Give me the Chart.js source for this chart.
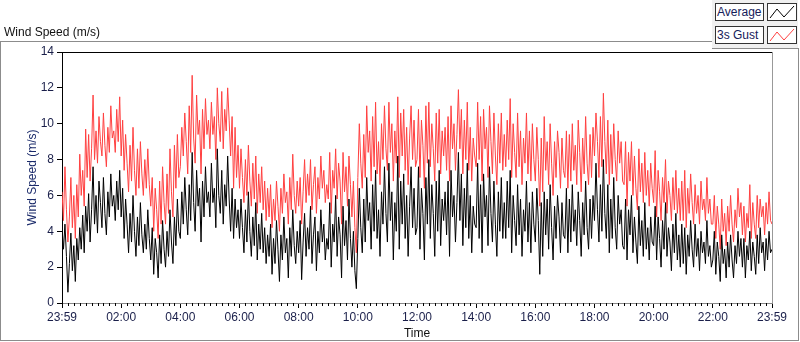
<!DOCTYPE html>
<html>
<head>
<meta charset="utf-8">
<script src="https://cdn.jsdelivr.net/npm/chart.js@4/dist/chart.umd.min.js"></script>
<style>
  body { margin: 0; background: #fff; }
  #wrap { position: relative; width: 800px; height: 342px; overflow: hidden; font-family: "Liberation Sans", Arial, sans-serif; }
  #chart { position: absolute; left: 0; top: 0; }
  .ln { position: absolute; background: #8c8c8c; }
  #title { position: absolute; left: 4px; top: 25px; font-size: 12px; color: #111; }
  #legend { position: absolute; left: 712px; top: 0; width: 86px; height: 48px; background: #f0f0f0; border-bottom: 1px solid #8c8c8c; }
  .lbl { position: absolute; left: 3px; width: 46px; height: 16px; border: 1px solid #333; background: #fff; font-size: 12px; line-height: 16px; padding-left: 1px; color: #15205a; }
  .ico { position: absolute; left: 55px; width: 28px; height: 16px; border: 1px solid #333; background: #fff; }
</style>
</head>
<body>
<div id="wrap">
  <canvas id="chart" width="800" height="342"></canvas>
  <div id="title">Wind Speed (m/s)</div>
  <div class="ln" style="left:0;top:41px;width:712px;height:1px"></div>
  <div class="ln" style="left:0;top:41px;width:1px;height:300px"></div>
  <div class="ln" style="left:0;top:340px;width:799px;height:1px"></div>
  <div class="ln" style="left:798px;top:48px;width:1px;height:293px"></div>
  <div id="legend">
    <div class="lbl" style="top:3px">Average</div>
    <div class="ico" style="top:3px"><svg width="28" height="16"><polyline points="2,14 9,5 16,13 26,2" fill="none" stroke="#000" stroke-width="1"/></svg></div>
    <div class="lbl" style="top:26px">3s Gust</div>
    <div class="ico" style="top:26px"><svg width="28" height="16"><polyline points="2,14 9,5 16,13 26,2" fill="none" stroke="#ff4040" stroke-width="1"/></svg></div>
  </div>
</div>
<script>
// 采样间隔 (分钟)，从 23:59 开始到次日 23:59
const sampleStep = 3;
const xMin = 0;
const xMax = 1440;
const yMin = 0;
const yMax = 14;

// 平均风速 (m/s)，每行一小时
const average = [
  4.2, 3.0, 4.4, 2.6, 0.6, 2.2, 3.9, 1.8, 3.2, 1.2, 3.6, 2.4, 4.2, 3.0, 4.9, 2.8, 5.4, 4.0, 6.1, 3.4,
  5.2, 7.6, 4.4, 6.0, 3.9, 6.8, 5.6, 4.2, 7.0, 5.0, 3.8, 6.2, 4.8, 7.2, 5.4, 6.0, 4.6, 6.8, 5.2, 7.4,
  4.8, 6.4, 3.6, 5.8, 4.4, 2.8, 5.0, 3.4, 6.0, 4.0, 2.6, 4.8, 3.2, 5.6, 3.8, 2.8, 4.4, 3.0, 5.2, 3.6,
  2.4, 4.2, 1.6, 3.6, 2.8, 1.4, 3.8, 2.2, 4.6, 3.0, 2.0, 4.0, 2.6, 5.2, 3.4, 2.2, 4.8, 3.2, 5.8, 4.0,
  3.6, 6.2, 4.4, 7.0, 5.2, 3.8, 6.6, 4.6, 8.4, 5.6, 4.0, 7.4, 5.4, 6.4, 3.4, 6.8, 4.8, 7.6, 5.6, 6.2,
  4.8, 7.8, 5.6, 6.4, 4.2, 8.6, 6.0, 5.0, 7.4, 4.4, 6.6, 5.4, 8.2, 5.8, 4.0, 6.4, 3.6, 5.8, 4.2, 5.2,
  3.6, 5.8, 4.2, 2.8, 5.2, 3.4, 6.2, 4.0, 2.6, 4.8, 3.2, 5.6, 2.4, 4.4, 3.0, 5.0, 2.8, 4.2, 2.2, 3.8,
  2.6, 4.4, 1.6, 3.6, 2.2, 4.6, 3.0, 1.2, 3.8, 2.4, 4.8, 2.8, 3.6, 1.4, 4.2, 2.6, 5.2, 3.2, 2.2, 4.0,
  2.8, 4.6, 1.3, 3.4, 5.0, 2.6, 4.2, 3.0, 5.4, 2.2, 3.8, 4.8, 1.8, 4.0, 2.8, 5.2, 3.4, 4.4, 2.4, 3.6,
  3.0, 5.6, 2.0, 4.4, 3.4, 6.0, 2.6, 4.8, 3.8, 1.4, 5.4, 3.2, 4.6, 2.4, 5.8, 3.6, 2.0, 4.0, 1.8, 0.8,
  3.6, 6.4, 4.2, 2.8, 5.8, 3.4, 7.0, 4.6, 5.6, 3.0, 6.6, 4.0, 7.4, 3.6, 5.2, 2.6, 6.2, 4.4, 7.6, 5.0,
  3.4, 7.8, 4.6, 6.2, 2.4, 5.6, 4.0, 8.2, 3.0, 6.8, 4.4, 7.2, 3.6, 6.0, 2.6, 5.4, 7.6, 4.2, 6.4, 3.8,
  4.2, 7.6, 3.0, 6.4, 5.0, 2.4, 7.0, 4.4, 8.0, 3.6, 6.6, 5.0, 2.6, 6.8, 4.0, 7.4, 3.2, 5.8, 4.6, 6.2,
  3.8, 6.8, 2.6, 7.4, 4.8, 6.0, 3.4, 5.6, 8.4, 4.6, 7.2, 3.2, 6.4, 4.2, 7.8, 3.6, 6.0, 2.8, 5.4, 4.4,
  4.2, 7.8, 3.6, 6.6, 2.8, 7.2, 4.8, 6.0, 3.2, 7.6, 5.0, 3.4, 6.8, 4.4, 2.6, 6.2, 4.0, 7.0, 3.6, 5.6,
  3.6, 6.8, 4.2, 7.4, 2.8, 6.0, 4.6, 3.2, 6.6, 3.8, 5.8, 2.6, 5.2, 4.0, 6.8, 3.4, 5.6, 2.8, 6.2, 4.4,
  3.4, 6.4, 4.6, 1.6, 5.6, 2.6, 6.2, 3.8, 5.8, 3.0, 6.6, 4.2, 2.4, 5.4, 3.6, 6.0, 4.8, 2.8, 5.6, 3.8,
  3.6, 6.4, 2.8, 5.8, 3.4, 6.6, 4.0, 5.2, 3.2, 6.2, 4.6, 2.6, 5.6, 3.8, 6.8, 4.2, 3.0, 5.8, 3.6, 6.0,
  4.6, 7.8, 5.2, 3.4, 6.6, 4.0, 8.0, 5.0, 3.6, 6.6, 2.8, 5.8, 3.6, 7.0, 4.2, 3.0, 6.0, 4.4, 5.2, 3.2,
  3.0, 5.8, 2.4, 5.2, 3.8, 6.0, 2.8, 4.8, 3.4, 2.2, 5.4, 3.2, 4.6, 2.6, 5.6, 3.0, 4.2, 2.4, 4.8, 3.4,
  3.2, 5.4, 2.4, 4.8, 3.6, 2.0, 4.6, 3.0, 5.6, 2.6, 4.2, 3.4, 1.8, 4.4, 2.8, 5.0, 2.4, 3.8, 2.0, 4.4,
  2.2, 4.2, 1.6, 3.8, 2.6, 4.6, 3.0, 2.0, 4.4, 2.6, 3.6, 1.8, 4.0, 2.8, 3.4, 2.2, 4.6, 2.6, 3.2, 2.0,
  2.4, 4.0, 1.6, 3.4, 2.6, 1.2, 3.8, 2.2, 3.0, 1.4, 3.4, 2.0, 3.8, 2.4, 1.4, 3.2, 2.2, 4.0, 2.6, 3.6,
  2.0, 3.6, 1.4, 3.2, 2.4, 4.0, 1.8, 3.4, 2.6, 1.6, 3.8, 2.2, 4.2, 2.8, 3.4, 1.8, 3.6, 2.4, 4.0, 2.8,
  3.0
];

// 3秒阵风 (m/s)
const gust = [
  6.2, 4.6, 7.6, 5.2, 3.4, 4.8, 7.0, 4.2, 6.0, 3.6, 6.6, 4.8, 8.3, 6.0, 7.4, 5.4, 9.7, 7.0, 9.4, 6.8,
  8.6, 11.6, 8.0, 9.6, 7.8, 10.4, 9.0, 8.2, 10.6, 8.8, 7.6, 9.8, 8.4, 11.0, 9.2, 9.6, 8.4, 10.8, 9.0, 11.5,
  8.2, 10.2, 7.4, 9.4, 7.8, 6.2, 8.8, 6.8, 9.8, 7.4, 6.0, 8.6, 6.4, 9.0, 7.2, 6.0, 8.0, 6.4, 8.6, 6.6,
  5.4, 7.0, 4.0, 6.4, 5.2, 3.6, 6.8, 4.4, 7.6, 5.6, 4.4, 7.2, 5.0, 8.6, 6.2, 4.8, 8.8, 6.4, 9.4, 7.0,
  7.6, 9.8, 8.2, 10.6, 9.0, 7.2, 11.0, 8.4, 12.7, 9.2, 7.8, 11.6, 9.4, 10.2, 7.2, 10.8, 8.6, 11.4, 9.4, 10.2,
  8.6, 11.2, 9.4, 10.4, 8.0, 12.0, 10.0, 9.0, 11.8, 8.6, 10.8, 9.6, 12.0, 10.2, 8.2, 10.4, 6.4, 9.8, 7.0, 8.8,
  6.4, 8.6, 7.0, 5.6, 8.0, 6.0, 8.8, 6.8, 5.4, 7.8, 5.8, 8.2, 5.0, 7.2, 5.6, 7.6, 5.2, 6.8, 4.6, 6.4,
  4.8, 6.6, 4.2, 5.8, 4.6, 6.8, 5.4, 4.0, 6.4, 5.0, 7.2, 5.6, 6.2, 4.4, 7.0, 5.2, 8.3, 6.0, 5.0, 6.8,
  5.4, 7.0, 4.4, 6.2, 8.0, 5.6, 7.2, 6.0, 8.0, 5.2, 6.6, 7.6, 5.0, 7.0, 5.8, 8.2, 6.4, 7.4, 5.6, 6.6,
  5.8, 8.4, 5.0, 7.4, 6.4, 8.6, 5.8, 7.8, 6.8, 4.4, 8.4, 6.2, 7.6, 5.4, 8.2, 6.6, 4.8, 6.8, 4.2, 2.8,
  7.0, 10.0, 7.8, 6.4, 9.4, 7.0, 11.0, 8.4, 9.6, 6.8, 10.4, 7.6, 11.2, 7.2, 9.0, 6.6, 10.0, 8.0, 11.0, 8.6,
  7.4, 11.2, 8.4, 10.0, 6.8, 9.6, 7.8, 11.5, 7.0, 10.6, 8.2, 10.8, 7.4, 9.8, 6.6, 9.2, 11.0, 8.0, 10.2, 7.6,
  8.0, 10.8, 7.0, 10.2, 8.8, 6.4, 11.0, 7.8, 11.2, 7.6, 10.0, 8.6, 6.8, 10.6, 7.8, 10.8, 7.2, 9.6, 8.2, 9.8,
  7.4, 10.4, 6.8, 11.0, 8.6, 10.0, 7.4, 9.4, 11.9, 8.6, 10.8, 7.2, 10.2, 8.0, 11.2, 7.4, 9.8, 6.8, 9.2, 8.2,
  7.6, 11.2, 8.0, 10.4, 6.8, 10.8, 8.6, 9.8, 7.0, 11.0, 9.0, 7.2, 10.6, 8.2, 6.6, 10.0, 7.8, 10.6, 7.4, 9.4,
  7.6, 10.2, 8.0, 11.4, 7.0, 10.0, 8.4, 7.0, 10.6, 7.6, 9.6, 6.6, 9.2, 7.8, 10.6, 7.2, 9.6, 6.8, 10.0, 8.0,
  6.8, 9.8, 8.0, 5.4, 9.2, 6.2, 10.4, 7.4, 9.0, 6.6, 10.0, 7.8, 6.0, 9.0, 7.0, 9.6, 8.4, 6.4, 9.2, 7.4,
  7.0, 9.6, 6.4, 9.4, 6.8, 10.0, 7.4, 8.8, 6.6, 10.2, 8.4, 6.2, 9.2, 7.2, 10.4, 7.8, 6.6, 9.4, 7.0, 9.8,
  8.2, 10.6, 9.0, 7.0, 10.4, 7.6, 11.7, 9.0, 7.2, 10.2, 6.6, 9.4, 7.2, 10.0, 8.0, 6.8, 9.6, 7.8, 9.0, 6.8,
  6.6, 9.0, 5.4, 8.4, 6.8, 9.0, 6.0, 8.2, 6.4, 5.2, 8.6, 6.2, 7.8, 5.6, 8.4, 6.0, 7.4, 5.4, 7.8, 6.4,
  5.6, 8.5, 4.8, 7.4, 6.2, 4.6, 7.0, 5.6, 8.0, 5.0, 6.8, 6.0, 4.6, 7.0, 5.2, 7.4, 5.0, 6.4, 4.6, 6.8,
  4.6, 7.4, 4.2, 6.4, 5.0, 7.2, 5.6, 4.4, 6.6, 5.0, 6.0, 4.4, 6.8, 5.2, 5.8, 4.6, 7.0, 5.0, 5.8, 4.4,
  4.4, 6.0, 3.6, 5.4, 4.4, 3.0, 5.8, 4.0, 5.0, 3.2, 5.4, 4.0, 6.0, 4.4, 3.4, 5.2, 4.2, 6.4, 4.8, 5.6,
  3.8, 5.4, 3.4, 5.0, 4.2, 6.6, 3.6, 5.6, 4.4, 3.6, 6.0, 4.2, 5.8, 4.8, 5.4, 3.8, 5.6, 4.4, 6.2, 4.6,
  4.4
];

const textColor = '#1a1f4a';
const toPoints = arr => arr.map((v, i) => ({ x: i * sampleStep, y: v }));

// 时间标签
function timeLabel(v) {
  if (v === xMin || v === xMax) return '23:59';
  if (v % 120 !== 0) return '';
  return String(v / 60).padStart(2, '0') + ':00';
}

// 绘图区上边框和右边框，以及X轴小刻度
const framePlugin = {
  id: 'frame',
  afterDraw(chart) {
    const { ctx, chartArea: a, scales } = chart;
    ctx.save();
    ctx.lineWidth = 1;
    ctx.strokeStyle = '#000';
    ctx.beginPath();
    ctx.moveTo(a.left, a.top + 0.5);
    ctx.lineTo(a.right, a.top + 0.5);
    ctx.stroke();
    ctx.strokeStyle = '#999';
    ctx.beginPath();
    ctx.moveTo(a.right + 0.5, a.top);
    ctx.lineTo(a.right + 0.5, a.bottom);
    ctx.stroke();
    ctx.strokeStyle = '#000';
    ctx.beginPath();
    for (let m = xMin; m <= xMax; m += 12) {
      if (m % 120 === 0 && m !== 0) continue;
      const x = Math.round(scales.x.getPixelForValue(m)) + 0.5;
      ctx.moveTo(x, a.bottom);
      ctx.lineTo(x, a.bottom + 3);
    }
    ctx.stroke();
    ctx.restore();
  }
};

new Chart(document.getElementById('chart'), {
  type: 'line',
  data: {
    datasets: [
      {
        label: 'Average',
        data: toPoints(average),
        borderColor: '#000',
        borderWidth: 1,
        pointRadius: 0,
        tension: 0
      },
      {
        label: '3s Gust',
        data: toPoints(gust),
        borderColor: '#ff4040',
        borderWidth: 1,
        pointRadius: 0,
        tension: 0
      }
    ]
  },
  options: {
    responsive: false,
    animation: false,
    layout: { padding: { top: 52, right: 28, left: 0, bottom: 0 } },
    plugins: {
      legend: { display: false },
      tooltip: { enabled: false }
    },
    scales: {
      x: {
        type: 'linear',
        min: xMin,
        max: xMax,
        afterBuildTicks(scale) {
          const ticks = [];
          for (let m = xMin; m <= xMax; m += 120) ticks.push({ value: m });
          ticks.push({ value: xMax });
          scale.ticks = ticks.filter((t, i, s) => s.findIndex(u => u.value === t.value) === i);
        },
        afterFit(scale) { scale.height = 39; },
        grid: { display: true, drawOnChartArea: false, tickLength: 5, color: '#000' },
        border: { display: true, color: '#888' },
        ticks: {
          autoSkip: false,
          maxRotation: 0,
          padding: 2,
          color: textColor,
          font: { family: 'Liberation Sans', size: 12 },
          callback: timeLabel
        },
        title: {
          display: true,
          text: 'Time',
          color: '#111',
          padding: { top: 0, bottom: 1 },
          font: { family: 'Liberation Sans', size: 12 }
        }
      },
      y: {
        min: yMin,
        max: yMax,
        afterFit(scale) { scale.width = 62; },
        grid: { display: true, drawOnChartArea: false, tickLength: 5, color: '#000' },
        border: { display: true, color: '#000' },
        ticks: {
          stepSize: 2,
          padding: 3,
          color: textColor,
          font: { family: 'Liberation Sans', size: 12 }
        },
        title: {
          display: true,
          text: 'Wind Speed (m/s)',
          color: '#1a2a6a',
          padding: { top: 25, bottom: 0 },
          font: { family: 'Liberation Sans', size: 12 }
        }
      }
    }
  },
  plugins: [framePlugin]
});
</script>
</body>
</html>
